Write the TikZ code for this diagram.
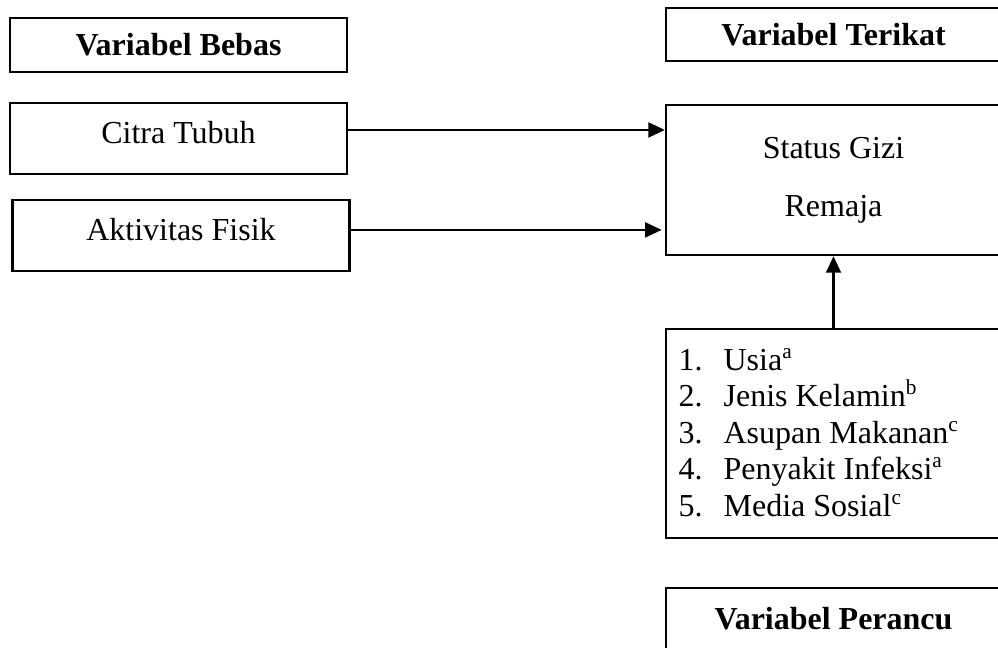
\documentclass[tikz,border=0pt]{standalone}
\usepackage{fontspec}
\setmainfont{Liberation Serif}
\usepackage{tikz}
\usetikzlibrary{positioning, arrows.meta}
\tikzstyle{kotak} = [rectangle, draw=black, line width=0.9pt, inner sep=0pt, text centered]
\tikzstyle{judul} = [kotak, font=\fontsize{12pt}{14pt}\selectfont\bfseries, text height=9pt, text depth=1pt]
\tikzstyle{variabel} = [kotak, minimum width=126.4pt, minimum height=26.6pt, text height=8.5pt, text depth=4.5pt]
\tikzstyle{arrow} = [line width=0.85pt, -{Triangle[length=6.2pt, width=5.6pt]}]
\def\lebar{125.6pt}

\begin{document}
\begin{tikzpicture}[x=0.375pt, y=-0.375pt, font=\fontsize{12pt}{14pt}\selectfont]
\useasboundingbox (0,0) rectangle (998,647);
\clip (0,0) rectangle (998,647);

% kiri
\node (judulbebas) [judul, minimum width=126.4pt, minimum height=20.25pt] at (178.5,45) {Variabel Bebas};
\node (citra) [variabel] at (178.5,138.5) {Citra Tubuh};
\node (aktivitas) [variabel] at (181,235.5) {Aktivitas Fisik};

% kanan
\node (judulterikat) [judul, minimum width=\lebar, minimum height=19.9pt] at (833.5,34.5) {Variabel Terikat};
\node (status) [kotak, minimum width=\lebar, minimum height=56.25pt, align=center, font=\fontsize{12pt}{21.75pt}\selectfont] at (833.5,180) {Status Gizi\\Remaja};
\node (faktor) [kotak, minimum width=\lebar, minimum height=78.4pt] at (833.5,433.5) {};
\node (judulperancu) [judul, minimum width=\lebar, minimum height=22.9pt] at (833.5,618.5) {Variabel Perancu};

\foreach \teks [count=\i] in {Usia\textsuperscript{a}, Jenis Kelamin\textsuperscript{b}, Asupan Makanan\textsuperscript{c}, Penyakit Infeksi\textsuperscript{a}, Media Sosial\textsuperscript{c}}
  \node (item\i) [anchor=base west, inner sep=0pt] at (678, {370+36.5*(\i-1)}) {\makebox[16.9pt][l]{\i.}\teks};

\draw [arrow] ([yshift=3.2pt]citra.east) -- ([yshift=3.2pt]citra.east -| status.west);
\draw [arrow, shorten >=1.2pt] ([yshift=2.1pt]aktivitas.east) -- ([yshift=2.1pt]aktivitas.east -| status.west);
\draw [arrow] (faktor) -- (status);

\end{tikzpicture}
\end{document}
